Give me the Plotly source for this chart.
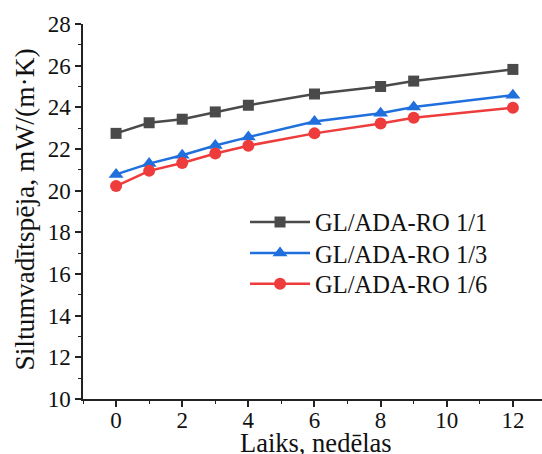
import plotly.graph_objects as go

weeks = [0, 1, 2, 3, 4, 6, 8, 9, 12]
s11 = [22.75, 23.26, 23.43, 23.78, 24.1, 24.64, 25.0, 25.26, 25.82]
s13 = [20.78, 21.3, 21.7, 22.17, 22.57, 23.32, 23.72, 24.02, 24.58]
s16 = [20.22, 20.95, 21.33, 21.78, 22.16, 22.75, 23.22, 23.5, 23.98]
names = ["GL/ADA-RO 1/1", "GL/ADA-RO 1/3", "GL/ADA-RO 1/6"]
x_ticks = [0, 2, 4, 6, 8, 10, 12]
y_ticks = [10, 12, 14, 16, 18, 20, 22, 24, 26, 28]
x_title = "Laiks, nedēlas"
y_title = "Siltumvadītspēja, mW/(m·K)"

FONT = "Liberation Serif, Times New Roman, serif"

fig = go.Figure()
styles = [
    ("#4a4a4a", "square", 11),
    ("#1f6fdd", "triangle-up", 13),
    ("#ee3b3b", "circle", 12),
]
legend_ids = ["legend", "legend2", "legend3"]
legend_y = [0.472, 0.389, 0.307]
for ys, nm, (c, sym, sz), lid in zip([s11, s13, s16], names, styles, legend_ids):
    fig.add_trace(go.Scatter(
        x=weeks, y=ys, name=nm, mode="lines+markers",
        line=dict(color=c, width=2.5),
        marker=dict(symbol=sym, size=sz, color=c),
        legend=lid,
    ))

legend_common = dict(
    x=0.353, xanchor="left", yanchor="middle",
    font=dict(family=FONT, size=24.5, color="#111111"),
    bgcolor="rgba(255,255,255,0)", itemwidth=60,
)

fig.update_layout(
    width=542, height=454,
    margin=dict(l=83, r=0, t=24, b=55),
    paper_bgcolor="white", plot_bgcolor="white",
    font=dict(family=FONT, color="#111111", size=23),
    showlegend=True,
    legend=dict(y=legend_y[0], **legend_common),
    legend2=dict(y=legend_y[1], **legend_common),
    legend3=dict(y=legend_y[2], **legend_common),
    xaxis=dict(
        range=[-1, 12.88], tickvals=x_ticks, ticks="outside", ticklen=6,
        tickwidth=1.5, tickcolor="#222", showline=True, linecolor="#222",
        linewidth=1.5, showgrid=False, zeroline=False,
        minor=dict(dtick=1, tick0=0, ticks="outside", ticklen=3, tickcolor="#222", tickwidth=1.2),
        tickfont=dict(size=23), automargin=False, ticklabelstandoff=-6,
    ),
    yaxis=dict(
        range=[10, 28], tickvals=y_ticks, ticks="outside", ticklen=6,
        tickwidth=1.5, tickcolor="#222", showline=True, linecolor="#222",
        linewidth=1.5, showgrid=False, zeroline=False,
        minor=dict(dtick=1, tick0=0, ticks="outside", ticklen=3, tickcolor="#222", tickwidth=1.2),
        tickfont=dict(size=23), automargin=False,
    ),
    annotations=[
        dict(text=x_title, xref="paper", yref="paper", x=0.507, y=-0.117,
             xanchor="center", yanchor="middle", showarrow=False,
             font=dict(family=FONT, size=26.5, color="#111111")),
        dict(text=y_title, xref="paper", yref="paper", x=-0.1264, y=0.505,
             xanchor="center", yanchor="middle", showarrow=False, textangle=-90,
             font=dict(family=FONT, size=27.5, color="#111111")),
    ],
)

fig.write_html("out.html")
